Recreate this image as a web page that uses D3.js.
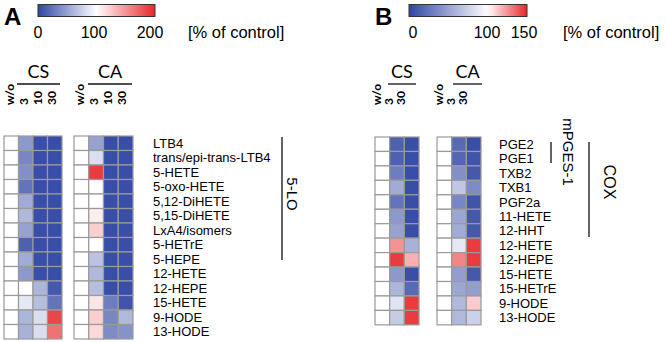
<!DOCTYPE html>
<html>
<head>
<meta charset="utf-8">
<script src="https://cdn.jsdelivr.net/npm/d3@7"></script>
<style>
  body { margin: 0; background: #fff; }
  svg { display: block; font-family: "Liberation Sans", Arial, sans-serif; }
  .hdr { font-family: Lato, "Open Sans", sans-serif; }
</style>
</head>
<body>
<div id="chart"></div>
<script>
// ---- panel A data (5-LO) ----
const lipidsA = ["LTB4", "trans/epi-trans-LTB4", "5-HETE", "5-oxo-HETE", "5,12-DiHETE", "5,15-DiHETE",
    "LxA4/isomers", "5-HETrE", "5-HEPE", "12-HETE", "12-HEPE", "15-HETE", "9-HODE", "13-HODE"];
const dosesA = ["w/o", "3", "10", "30"];
const csA = [
    [100, 45, 5, 5], [100, 35, 5, 5], [100, 40, 5, 5], [100, 25, 5, 5], [100, 55, 5, 5],
    [100, 62, 5, 5], [100, 50, 5, 5], [100, 15, 5, 5], [100, 55, 5, 5], [100, 45, 5, 5],
    [100, 100, 60, 10], [100, 88, 65, 25], [100, 60, 82, 185], [100, 58, 82, 165]
];
const caA = [
    [100, 50, 5, 5], [100, 82, 5, 5], [100, 190, 5, 5], [100, 100, 5, 5], [100, 100, 5, 5],
    [100, 108, 5, 5], [100, 122, 5, 5], [100, 100, 5, 5], [100, 68, 5, 5], [100, 62, 5, 5],
    [100, 65, 5, 5], [100, 112, 30, 8], [100, 122, 35, 62], [100, 118, 38, 42]
];
const legendTicksA = [0, 100, 200];

// ---- panel B data (COX) ----
const lipidsB = ["PGE2", "PGE1", "TXB2", "TXB1", "PGF2a", "11-HETE", "12-HHT", "12-HETE", "12-HEPE",
    "15-HETE", "15-HETrE", "9-HODE", "13-HODE"];
const dosesB = ["w/o", "3", "30"];
const csB = [
    [100, 15, 5], [100, 15, 5], [100, 30, 5], [100, 55, 5], [100, 25, 5], [100, 45, 5], [100, 50, 5],
    [100, 125, 58], [100, 145, 118], [100, 45, 5], [100, 60, 20], [100, 85, 145], [100, 72, 145]
];
const caB = [
    [100, 20, 5], [100, 18, 8], [100, 40, 10], [100, 70, 38], [100, 35, 8], [100, 52, 10], [100, 55, 10],
    [100, 88, 145], [100, 128, 145], [100, 48, 10], [100, 52, 48], [100, 62, 112], [100, 62, 75]
];
const legendTicksB = [0, 100, 150];

const groups = ["CS", "CA"];

const W = 666, H = 342;
const blue = "#2f45a3", red = "#e8262a";

const svg = d3.select("#chart").append("svg")
    .attr("width", W)
    .attr("height", H);

function drawPanel(p) {
    let color = d3.scaleLinear()
        .domain([0, 100, p.max])
        .range([blue, "#ffffff", red])
        .clamp(true);

    // panel letter
    svg.append("text")
        .attr("x", p.letterX).attr("y", 25)
        .attr("font-size", 24).attr("font-weight", "bold")
        .text(p.letter);

    // colour bar
    let grad = svg.append("defs").append("linearGradient")
        .attr("id", "grad" + p.letter);
    d3.range(0, 1.0001, 0.05).forEach(t => {
        grad.append("stop")
            .attr("offset", t)
            .attr("stop-color", color(t * p.max));
    });
    svg.append("rect")
        .attr("x", p.barX[0]).attr("y", 4.5)
        .attr("width", p.barX[1] - p.barX[0]).attr("height", 12)
        .attr("fill", `url(#grad${p.letter})`)
        .attr("stroke", "#333").attr("stroke-width", 1);

    let tickX = d3.scaleLinear().domain([0, p.max]).range(p.tickRange);
    svg.selectAll(null).data(p.ticks).enter().append("text")
        .attr("x", d => tickX(d)).attr("y", 38)
        .attr("text-anchor", "middle").attr("font-size", 16)
        .text(d => d);
    svg.append("text")
        .attr("x", p.unitX).attr("y", 38)
        .attr("font-size", 16.5)
        .text("[% of control]");

    // rows
    let y = d3.scaleBand()
        .domain(p.lipids)
        .range([p.top, p.top + p.rowH * p.lipids.length]);

    p.blocks.forEach((blk, gi) => {
        let x = d3.scaleBand().domain(p.doses).range(blk.x);
        let g = svg.append("g");

        p.lipids.forEach((lip, ri) => {
            g.selectAll(null).data(blk.values[ri]).enter().append("rect")
                .attr("x", (d, ci) => x(p.doses[ci]))
                .attr("y", y(lip))
                .attr("width", x.bandwidth())
                .attr("height", y.bandwidth())
                .attr("fill", d => color(d))
                .attr("stroke", "#9a9a9a")
                .attr("stroke-width", 1.2);
        });

        // group header
        let cx = (blk.line[0] + blk.line[1]) / 2;
        svg.append("text")
            .attr("class", "hdr")
            .attr("x", cx).attr("y", 78)
            .attr("text-anchor", "middle").attr("font-size", 18)
            .text(groups[gi]);
        svg.append("line")
            .attr("x1", blk.line[0]).attr("x2", blk.line[1])
            .attr("y1", 84).attr("y2", 84)
            .attr("stroke", "#111").attr("stroke-width", 1.3);

        // dose labels
        let lx = d3.scalePoint().domain(p.doses).range([blk.x[0] + p.labOff[0], blk.x[0] + p.labOff[1]]);
        svg.selectAll(null).data(p.doses).enter().append("text")
            .attr("class", "hdr")
            .attr("transform", d => `translate(${lx(d) + 4},105) rotate(-90)`)
            .attr("font-size", 12).attr("font-weight", "bold")
            .text(d => d);
    });

    // lipid names
    svg.selectAll(null).data(p.lipids).enter().append("text")
        .attr("x", p.labelX)
        .attr("y", d => y(d) + y.bandwidth() / 2 + 4.5)
        .attr("font-size", 13)
        .text(d => d);

    // enzyme brackets
    p.brackets.forEach(b => {
        svg.append("line")
            .attr("x1", b.x).attr("x2", b.x)
            .attr("y1", b.y[0]).attr("y2", b.y[1])
            .attr("stroke", "#111").attr("stroke-width", 1.3);
        svg.append("text")
            .attr("transform", `translate(${b.tx},${b.ty}) rotate(90)`)
            .attr("text-anchor", "middle")
            .attr("font-size", b.size)
            .text(b.name);
    });
}

drawPanel({
    letter: "A", letterX: 4, max: 200,
    barX: [38, 155], tickRange: [38, 150], ticks: legendTicksA, unitX: 188,
    lipids: lipidsA, doses: dosesA, top: 136, rowH: 14.5,
    blocks: [
        {x: [4, 62], line: [17, 60], values: csA},
        {x: [74, 133], line: [88, 132], values: caA}
    ],
    labOff: [6, 48], labelX: 153,
    brackets: [{x: 282, y: [137, 260], name: "5-LO", tx: 287, ty: 194, size: 15}]
});

drawPanel({
    letter: "B", letterX: 375, max: 150,
    barX: [409, 527], tickRange: [413, 524], ticks: legendTicksB, unitX: 563,
    lipids: lipidsB, doses: dosesB, top: 137, rowH: 14.45,
    blocks: [
        {x: [375, 419], line: [388, 416], values: csB},
        {x: [437, 481], line: [453, 482], values: caB}
    ],
    labOff: [2, 26], labelX: 499,
    brackets: [
        {x: 551, y: [142, 163], name: "mPGES-1", tx: 563, ty: 152, size: 15},
        {x: 589, y: [142, 237], name: "COX", tx: 604, ty: 182, size: 16}
    ]
});
</script>
</body>
</html>
